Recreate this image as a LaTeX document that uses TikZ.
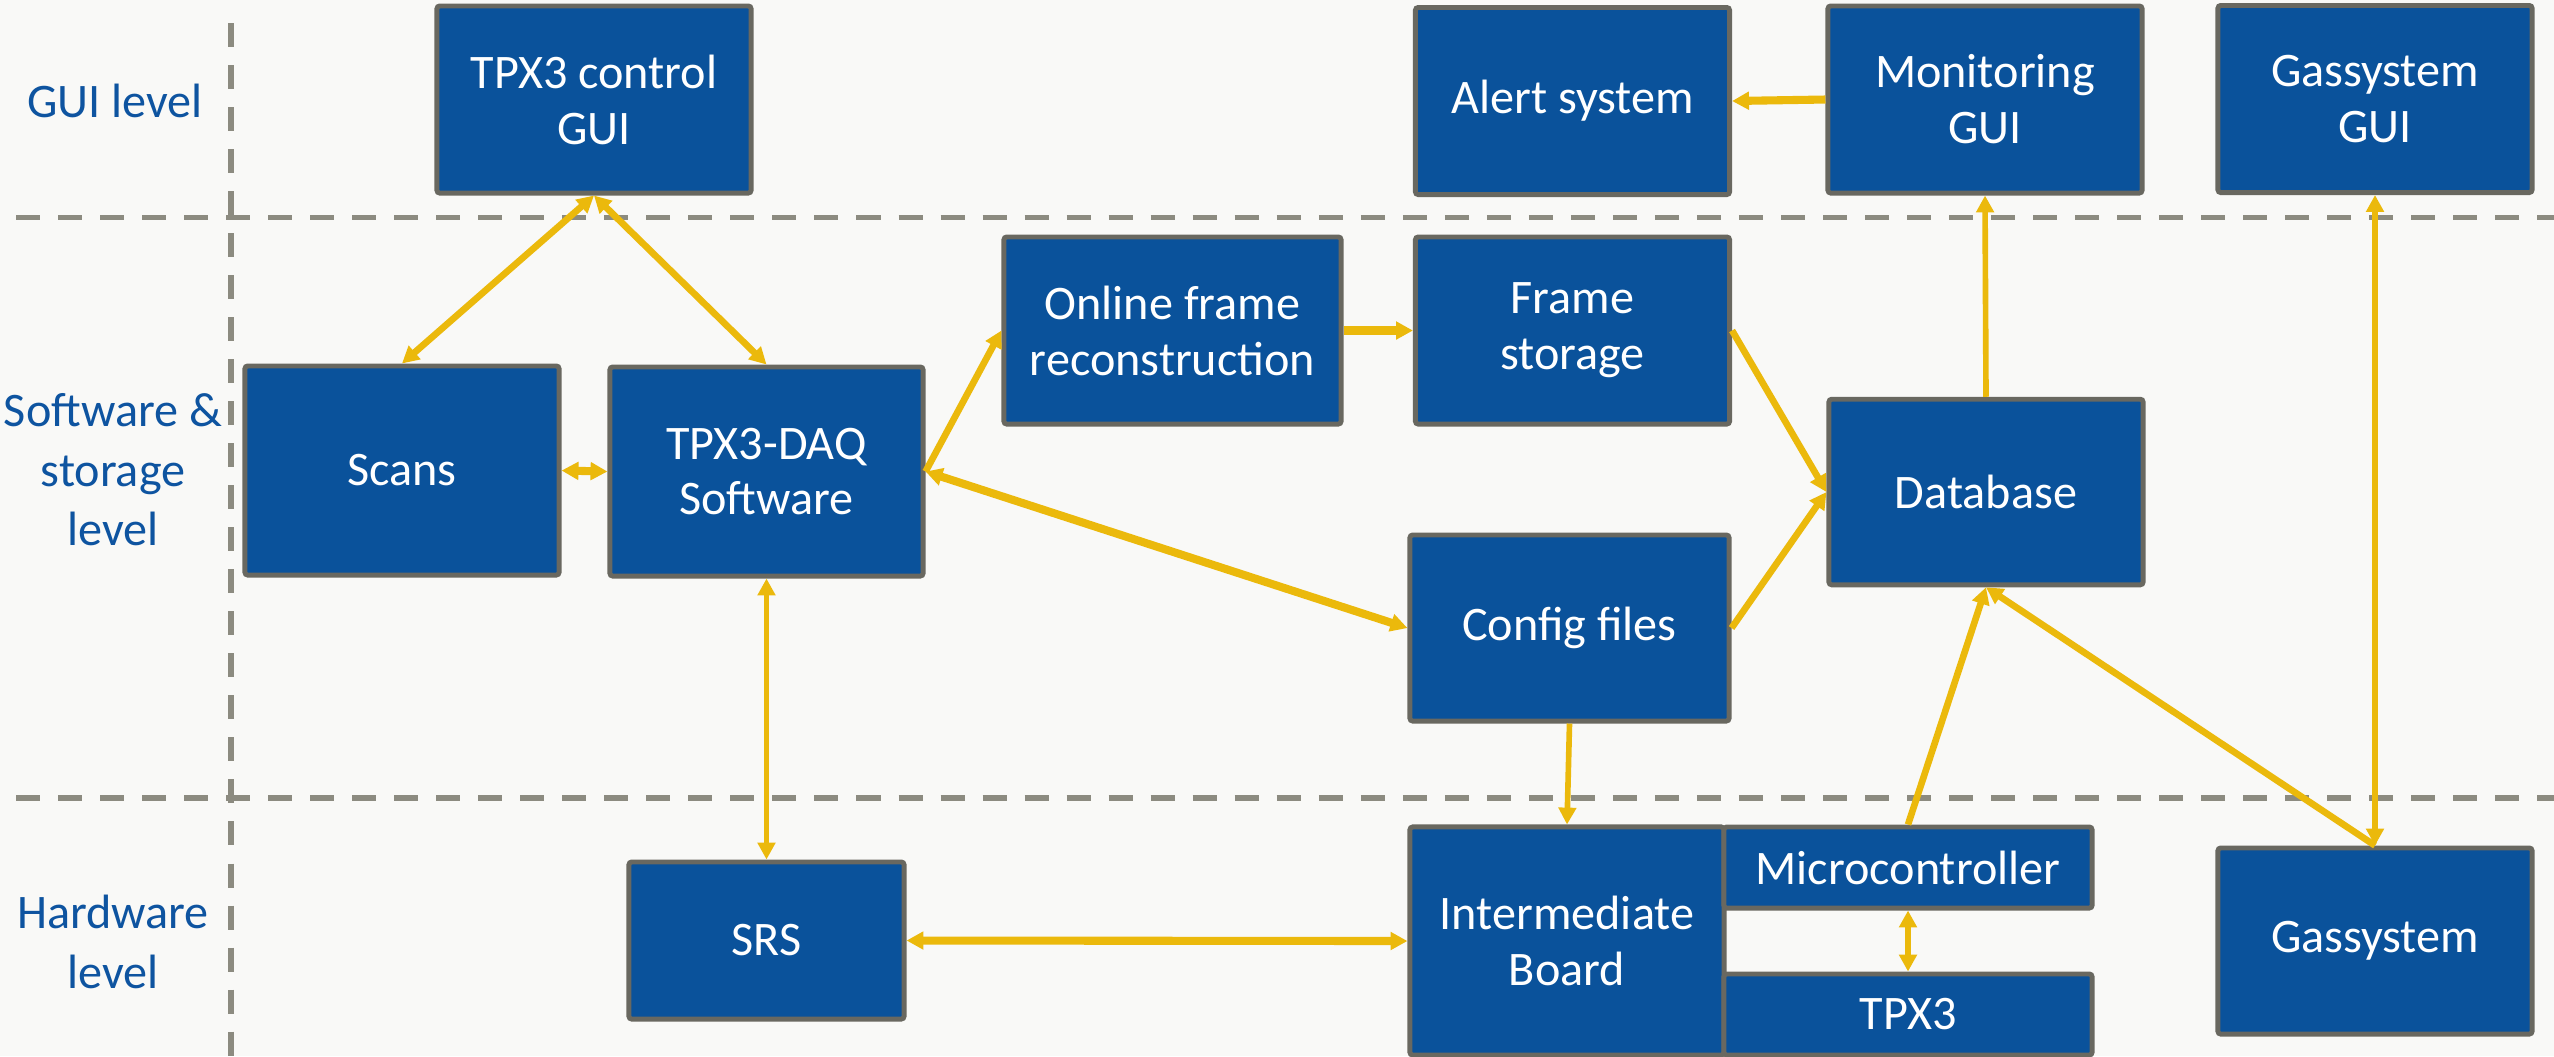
\documentclass[tikz,border=0pt]{standalone}
\usepackage{fontspec}
\setmainfont{Carlito}
\usetikzlibrary{arrows.meta}
\definecolor{bg}{RGB}{249,249,247}
\definecolor{boxblue}{RGB}{10,82,155}
\definecolor{boxedge}{RGB}{105,104,96}
\definecolor{lvlblue}{RGB}{14,84,160}
\definecolor{dashgray}{RGB}{140,139,128}
\definecolor{arr}{RGB}{235,185,12}
\begin{document}
\begin{tikzpicture}[x=0.01cm,y=-0.01cm,
  >={Triangle[length=4.8pt,width=4.9pt]},
  blk/.style={draw=boxedge, fill=boxblue, line width=1.4pt, rounded corners=0.8pt, text=white, align=center, inner sep=0pt,
    minimum width=3.14cm, minimum height=1.87cm, font=\fontsize{13.7}{15.9}\selectfont},
  lvl/.style={text=lvlblue, align=center, font=\fontsize{13.7}{16.9}\selectfont},
  sepline/.style={draw=dashgray, line width=1.6pt, dash pattern=on 6.83pt off 5.12pt},
  thickc/.style={draw=arr, line width=2.3pt},
  medc/.style={draw=arr, line width=1.9pt},
  thinc/.style={draw=arr, line width=1.6pt}
]
\fill[bg] (0,0) rectangle (2554,1056);
\useasboundingbox (0,0) rectangle (2554,1056);

% separators
\draw[sepline] (16,217.6) -- (2554,217.6);
\draw[sepline] (16,797.7) -- (2554,797.7);
\draw[sepline] (231,23) -- (231,1056);

% level labels
\node[lvl] (lgui) at (115,101) {GUI level};
\node[lvl] (lsw) at (113,470) {Software \&\\storage\\level};
\node[lvl] (lhw) at (113,942) {Hardware\\level};

% boxes
\node[blk] (tpxgui) at (594,99.5) {TPX3 control\\GUI};
\node[blk] (alert) at (1572.5,101) {Alert system};
\node[blk] (mongui) at (1985,99.5) {Monitoring\\GUI};
\node[blk] (gasgui) at (2375,99) {Gassystem\\GUI};
\node[blk, minimum height=2.09cm] (scans) at (402,470.5) {Scans};
\node[blk, minimum width=3.13cm, minimum height=2.09cm] (daq) at (766.5,471.5) {TPX3-DAQ\\Software};
\node[blk, minimum width=3.37cm] (online) at (1172.5,330.5) {Online frame\\reconstruction};
\node[blk] (frame) at (1572.5,330.5) {Frame\\storage};
\node[blk, minimum height=1.855cm] (db) at (1986,492) {Database};
\node[blk, minimum width=3.19cm, minimum height=1.86cm] (config) at (1569.5,628) {Config files};
\node[blk, minimum width=2.75cm, minimum height=1.57cm] (srs) at (766.5,940.5) {SRS};
\node[blk, minimum height=2.28cm] (ib) at (1567,941) {Intermediate\\Board};
\node[blk, minimum width=3.68cm, minimum height=0.81cm] (mc) at (1908,867.5) {Microcontroller};
\node[blk, minimum width=3.68cm, minimum height=0.81cm] (tpx3) at (1908,1014.5) {TPX3};
\node[blk, minimum height=1.86cm] (gas) at (2375,941) {Gassystem};

% connectors
\draw[medc,<->] (tpxgui.south) -- (scans.north);
\draw[medc,<->] (tpxgui.south) -- (daq.north);
\draw[thickc,<->] (scans.east) -- (daq.west);
\draw[medc,->] (daq.east) -- (online.west);
\draw[thickc,<->] (daq.east) -- (config.west);
\draw[thickc,->] (online.east) -- (frame.west);
\draw[medc,->] (frame.east) -- (db.west);
\draw[medc,->] (config.east) -- (db.west);
\draw[thinc,->] (db.north) -- (mongui.south);
\draw[thickc,->] (mongui.west) -- (alert.east);
\draw[thinc,<->] (gasgui.south) -- (gas.north);
\draw[medc,->] (gas.north) -- (db.south);
\draw[medc,->] (mc.north) -- (db.south);
\draw[thinc,->] (config.south) -- (ib.north);
\draw[thickc,<->] (srs.east) -- (ib.west);
\draw[thinc,<->] (daq.south) -- (srs.north);
\draw[medc,<->] (mc.south) -- (tpx3.north);
\end{tikzpicture}
\end{document}
